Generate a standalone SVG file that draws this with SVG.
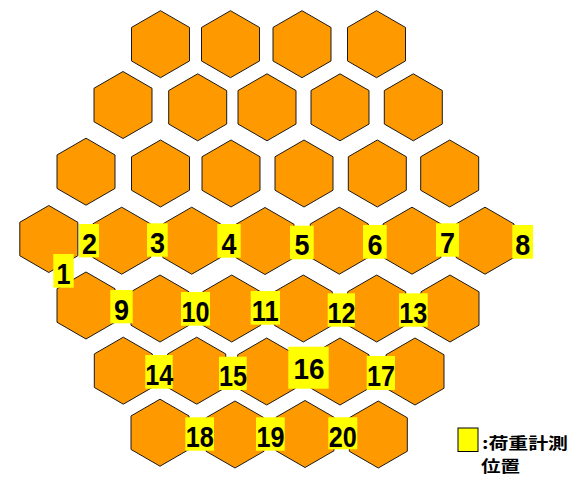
<svg xmlns="http://www.w3.org/2000/svg" xmlns:xlink="http://www.w3.org/1999/xlink" width="572" height="477" viewBox="0 0 572 477">
<style>
.hex{fill:#FF9900;stroke:#1a1a1a;stroke-width:1;stroke-linejoin:miter}
.lb{fill:#FFFF00}
.num{font-family:"Liberation Sans",Arial,sans-serif;font-weight:bold;font-size:30px;fill:#000;text-anchor:middle}
.leg{font-family:"Noto Sans CJK JP","Liberation Sans",sans-serif;font-weight:bold;font-size:16px;fill:#000}
</style>
<defs>
<path id="hx" class="hex" d="M0,-33.5 L29,-16.75 L29,16.75 L0,33.5 L-29,16.75 L-29,-16.75 Z"/>
</defs>
<rect width="572" height="477" fill="#fff"/>
<g id="hexes">
<g id="hex-r1-1"><use href="#hx" x="160.5" y="44.2"/></g>
<g id="hex-r1-2"><use href="#hx" x="230.5" y="44.2"/></g>
<g id="hex-r1-3"><use href="#hx" x="302" y="44.2"/></g>
<g id="hex-r1-4"><use href="#hx" x="376.5" y="44.2"/></g>
<g id="hex-r2-1"><use href="#hx" x="123" y="105"/></g>
<g id="hex-r2-2"><use href="#hx" x="197.7" y="107.3"/></g>
<g id="hex-r2-3"><use href="#hx" x="267" y="107.3"/></g>
<g id="hex-r2-4"><use href="#hx" x="340" y="107.3"/></g>
<g id="hex-r2-5"><use href="#hx" x="413.3" y="107.3"/></g>
<g id="hex-r3-1"><use href="#hx" x="86" y="171.7"/></g>
<g id="hex-r3-2"><use href="#hx" x="160.5" y="173.5"/></g>
<g id="hex-r3-3"><use href="#hx" x="231" y="173.5"/></g>
<g id="hex-r3-4"><use href="#hx" x="304" y="173.5"/></g>
<g id="hex-r3-5"><use href="#hx" x="377.3" y="173.5"/></g>
<g id="hex-r3-6"><use href="#hx" x="449.7" y="173.5"/></g>
<g id="hex-r4-1"><use href="#hx" x="48.8" y="239"/></g>
<g id="hex-r4-2"><use href="#hx" x="121.7" y="240.7"/></g>
<g id="hex-r4-3"><use href="#hx" x="191.7" y="240.7"/></g>
<g id="hex-r4-4"><use href="#hx" x="265" y="241"/></g>
<g id="hex-r4-5"><use href="#hx" x="339.3" y="240.7"/></g>
<g id="hex-r4-6"><use href="#hx" x="412" y="240.7"/></g>
<g id="hex-r4-7"><use href="#hx" x="485" y="240.7"/></g>
<g id="hex-r5-1"><use href="#hx" x="86" y="305.5"/></g>
<g id="hex-r5-2"><use href="#hx" x="160" y="308.5"/></g>
<g id="hex-r5-3"><use href="#hx" x="231.7" y="308.5"/></g>
<g id="hex-r5-4"><use href="#hx" x="303.3" y="308.5"/></g>
<g id="hex-r5-5"><use href="#hx" x="376.7" y="308.5"/></g>
<g id="hex-r5-6"><use href="#hx" x="450" y="308.5"/></g>
<g id="hex-r6-1"><use href="#hx" x="123.3" y="370.7"/></g>
<g id="hex-r6-2"><use href="#hx" x="196.7" y="370.7"/></g>
<g id="hex-r6-3"><use href="#hx" x="266.7" y="371.5"/></g>
<g id="hex-r6-4"><use href="#hx" x="340" y="371.5"/></g>
<g id="hex-r6-5"><use href="#hx" x="415" y="371.5"/></g>
<g id="hex-r7-1"><use href="#hx" x="160" y="432.7"/></g>
<g id="hex-r7-2"><use href="#hx" x="235" y="434.5"/></g>
<g id="hex-r7-3"><use href="#hx" x="305" y="434"/></g>
<g id="hex-r7-4"><use href="#hx" x="378.3" y="434.5"/></g>
</g>
<g id="connectors"></g>
<g id="labels">
<g id="label-1"><rect class="lb" x="53.3" y="254" width="20.4" height="33.7"/><text class="num" x="63.5" y="283.5" textLength="14" lengthAdjust="spacingAndGlyphs">1</text></g>
<g id="label-2"><rect class="lb" x="79" y="224" width="20" height="33.3"/><text class="num" x="89.5" y="253.5" textLength="15" lengthAdjust="spacingAndGlyphs">2</text></g>
<g id="label-3"><rect class="lb" x="147" y="223.3" width="20.7" height="33.4"/><text class="num" x="157.5" y="252.8" textLength="15" lengthAdjust="spacingAndGlyphs">3</text></g>
<g id="label-4"><rect class="lb" x="217.3" y="224" width="23.4" height="33.7"/><text class="num" x="229" y="253.5" textLength="15" lengthAdjust="spacingAndGlyphs">4</text></g>
<g id="label-5"><rect class="lb" x="290" y="225.7" width="23.7" height="33.6"/><text class="num" x="302" y="255.2" textLength="15" lengthAdjust="spacingAndGlyphs">5</text></g>
<g id="label-6"><rect class="lb" x="363" y="225" width="23.7" height="33.7"/><text class="num" x="375" y="254.5" textLength="15" lengthAdjust="spacingAndGlyphs">6</text></g>
<g id="label-7"><rect class="lb" x="436" y="223.3" width="23" height="33.4"/><text class="num" x="447.5" y="252.8" textLength="15" lengthAdjust="spacingAndGlyphs">7</text></g>
<g id="label-8"><rect class="lb" x="512.3" y="225" width="20.7" height="33.7"/><text class="num" x="522.7" y="254.5" textLength="15" lengthAdjust="spacingAndGlyphs">8</text></g>
<g id="label-9"><rect class="lb" x="110.3" y="290" width="22.4" height="33.3"/><text class="num" x="121.5" y="319.5" textLength="15" lengthAdjust="spacingAndGlyphs">9</text></g>
<g id="label-10"><rect class="lb" x="181" y="292" width="29" height="33.7"/><text class="num" x="195.5" y="321.7" textLength="28" lengthAdjust="spacingAndGlyphs">10</text></g>
<g id="label-11"><rect class="lb" x="250.7" y="291" width="29.3" height="33.7"/><text class="num" x="265.3" y="320.7" textLength="27" lengthAdjust="spacingAndGlyphs">11</text></g>
<g id="label-12"><rect class="lb" x="327.7" y="293.3" width="27.3" height="33.4"/><text class="num" x="341.5" y="323" textLength="28" lengthAdjust="spacingAndGlyphs">12</text></g>
<g id="label-13"><rect class="lb" x="399" y="293.3" width="28.7" height="33.4"/><text class="num" x="413.3" y="323" textLength="28" lengthAdjust="spacingAndGlyphs">13</text></g>
<g id="label-14"><rect class="lb" x="145.3" y="355" width="27.4" height="33.7"/><text class="num" x="159.3" y="384.7" textLength="28" lengthAdjust="spacingAndGlyphs">14</text></g>
<g id="label-15"><rect class="lb" x="219" y="356.7" width="27.7" height="33.3"/><text class="num" x="233" y="386.3" textLength="28" lengthAdjust="spacingAndGlyphs">15</text></g>
<g id="label-16"><rect class="lb" x="288.3" y="346.7" width="40.4" height="42"/><text class="num" x="309" y="379.3" textLength="31" lengthAdjust="spacingAndGlyphs">16</text></g>
<g id="label-17"><rect class="lb" x="366.7" y="356" width="28.3" height="34"/><text class="num" x="381" y="385.7" textLength="28" lengthAdjust="spacingAndGlyphs">17</text></g>
<g id="label-18"><rect class="lb" x="185.3" y="417.3" width="28.7" height="33.4"/><text class="num" x="199.7" y="447" textLength="28" lengthAdjust="spacingAndGlyphs">18</text></g>
<g id="label-19"><rect class="lb" x="256" y="417.3" width="28.7" height="33.4"/><text class="num" x="270.4" y="447" textLength="28" lengthAdjust="spacingAndGlyphs">19</text></g>
<g id="label-20"><rect class="lb" x="328.3" y="417.3" width="29" height="32"/><text class="num" x="342.8" y="446.5" textLength="28" lengthAdjust="spacingAndGlyphs">20</text></g>
</g>
<g id="legend">
<rect x="458" y="428" width="20" height="23.5" fill="#FFFF00" stroke="#000" stroke-width="1"/>
<text class="leg" x="482" y="449.2" textLength="86" lengthAdjust="spacingAndGlyphs">:荷重計測</text>
<text class="leg" x="481" y="472.3" textLength="39" lengthAdjust="spacingAndGlyphs">位置</text>
</g>
</svg>
